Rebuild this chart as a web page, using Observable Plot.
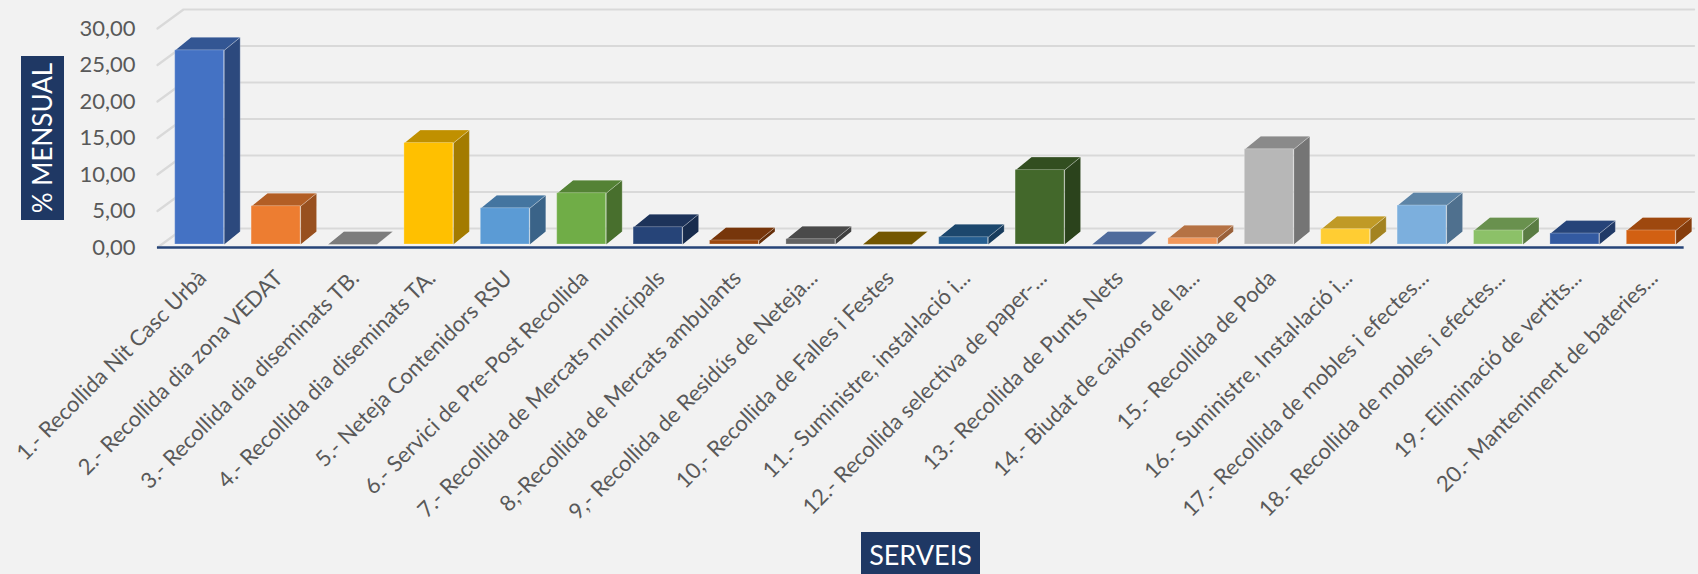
<!DOCTYPE html>
<html><head><meta charset="utf-8">
<script src="https://cdn.jsdelivr.net/npm/d3@7"></script>
<script src="https://cdn.jsdelivr.net/npm/@observablehq/plot@0.6"></script>
<style>
html,body{margin:0;padding:0;background:#f2f2f2;}
#wrap{position:relative;width:1698px;height:574px;overflow:hidden;font-family:Lato,sans-serif;}
#chart{position:absolute;left:0;top:0;}
.box{position:absolute;background:#1f3864;color:#fff;display:flex;align-items:center;justify-content:center;white-space:nowrap;}
#ytitle{left:21px;top:56px;width:43px;height:164px;}
#ytitle span{transform:rotate(-90deg);font-size:26px;display:block;}
#xtitle{left:861px;top:532px;width:119px;height:44px;font-size:27px;}
</style></head><body>
<div id="wrap"><div id="chart"></div><div class="box" id="ytitle"><span>% MENSUAL</span></div><div class="box" id="xtitle">SERVEIS</div></div>
<script>
const categories = [
  "1.- Recollida Nit Casc Urbà",
  "2.- Recollida dia zona VEDAT",
  "3.- Recollida dia diseminats TB.",
  "4.- Recollida dia diseminats TA.",
  "5.- Neteja Contenidors RSU",
  "6.- Servici de Pre-Post Recollida",
  "7.- Recollida de Mercats municipals",
  "8,-Recollida de Mercats ambulants",
  "9,- Recollida de Residús de Neteja...",
  "10,- Recollida de Falles i Festes",
  "11.- Suministre, instal·lació i...",
  "12.- Recollida selectiva de paper-...",
  "13.- Recollida de Punts Nets",
  "14.- Biudat de caixons de la...",
  "15.- Recollida de Poda",
  "16.- Suministre, Instal·lació i...",
  "17.- Recollida de mobles i efectes...",
  "18.- Recollida de mobles i efectes...",
  "19.- Eliminació de vertits...",
  "20.- Manteniment de bateries..."
];
const values = [26.6, 5.25, 0, 13.9, 4.97, 7.03, 2.37, 0.55, 0.73, 0, 1.0, 10.2, 0, 0.86, 13.05, 2.1, 5.34, 1.92, 1.5, 1.92];
const colors = ["#4472C4","#ED7D31","#A5A5A5","#FFC000","#5B9BD5","#70AD47","#264478","#9E480E","#636363","#997300",
                "#255E91","#43682B","#698ED0","#F1975A","#B7B7B7","#FFCD33","#7CAFDD","#8CC168","#335AA1","#D26012"];
const yTicks = [0, 5, 10, 15, 20, 25, 30];

// layout
const W = 1698, H = 574, mL = 161, mR = 9, mT = 28, mB = 327;
const pxX = (W - mL - mR) / 20;       // px per x unit
const pxY = (H - mT - mB) / 30;       // px per y unit
const half = 24.5 / pxX;              // half bar width
const bdx = 16 / pxX, bdy = 13 / pxY; // bar depth
const fdx0 = (157 - mL) / pxX + 0.5, fdx1 = (183 - mL) / pxX + 0.5, fdy = 19 / pxY; // floor depth

const rows = categories.map((name, k) => ({i: k + 1, name, value: values[k], color: colors[k]}));
const darker = (c, k) => d3.rgb(c).darker(k).formatHex();

const tops = [], sides = [], grid = [];
rows.forEach(r => {
  const a = r.i - half, b = r.i + half, v = r.value;
  const ft = darker(r.color, 0.8), fs = darker(r.color, 1.25);
  [[a, v], [b, v], [b + bdx, v + bdy], [a + bdx, v + bdy]].forEach(([x, y]) => tops.push({x, y, id: r.i, fill: ft}));
  [[b, 0], [b, v], [b + bdx, v + bdy], [b + bdx, bdy]].forEach(([x, y]) => sides.push({x, y, id: r.i, fill: fs}));
});
yTicks.forEach(t => {
  [[fdx0, t], [fdx1, t + fdy], [20.56, t + fdy]].forEach(([x, y]) => grid.push({x, y, t}));
});

const chart = Plot.plot({
  width: W, height: H,
  marginLeft: mL, marginRight: mR, marginTop: mT, marginBottom: mB,
  x: {type: "linear", domain: [0.5, 20.5], axis: null},
  y: {domain: [0, 30], axis: null},
  color: {type: "identity"},
  style: {background: "transparent", fontFamily: "Lato, sans-serif", overflow: "visible"},
  marks: [
    Plot.line(grid, {x: "x", y: "y", z: "t", stroke: "#d9d9d9", strokeWidth: 2.2}),
    Plot.ruleY([0], {x1: fdx0, x2: 20.43, stroke: "#264478", strokeWidth: 2.5}),
    Plot.line(sides, {x: "x", y: "y", z: "id", fill: "fill", stroke: "#ffffff", strokeOpacity: 0.25, strokeWidth: 1, curve: "linear-closed", dy: -3}),
    Plot.line(tops, {x: "x", y: "y", z: "id", fill: "fill", stroke: "#ffffff", strokeOpacity: 0.25, strokeWidth: 1, curve: "linear-closed", dy: -3}),
    Plot.rect(rows, {x1: d => d.i - half, x2: d => d.i + half, y1: 0, y2: "value", fill: "color", stroke: "#ffffff", strokeOpacity: 0.25, strokeWidth: 1, dy: -3}),
    Plot.text(yTicks, {x: d => 0.5, y: d => d, text: d => d.toFixed(2).replace(".", ","), textAnchor: "end", dx: -26, fontSize: 22, fill: "#595959"}),
    Plot.text(rows, {x: "i", y: d => 0, text: "name", rotate: -45, textAnchor: "end", dx: 3, dy: 27, fontSize: 22, fill: "#595959"})
  ]
});
document.getElementById("chart").appendChild(chart);
</script></body></html>
